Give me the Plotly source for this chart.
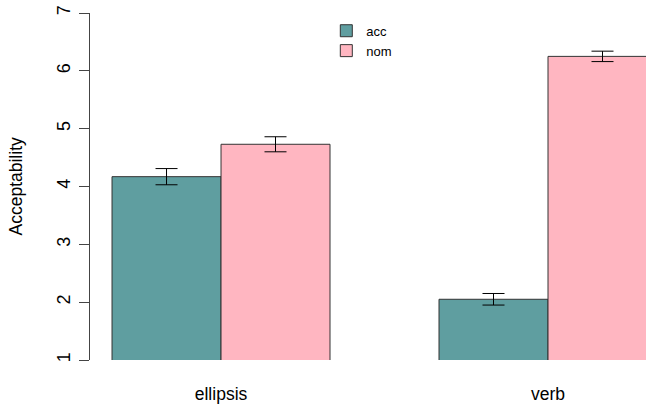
import plotly.graph_objects as go

# Mean acceptability ratings with standard errors, by construction and case
constructions = ["ellipsis", "verb"]
acc_mean = [4.17, 2.05]
acc_se = [0.14, 0.10]
nom_mean = [4.73, 6.25]
nom_se = [0.13, 0.09]
y_ticks = [1, 2, 3, 4, 5, 6, 7]

# Grouped bar positions (unit-width bars, one-unit gap between groups)
acc_x = [1.5, 4.5]
nom_x = [2.5, 5.5]
group_centers = [2, 5]

FONT = "Liberation Sans, Arial, sans-serif"
EDGE = "#333333"

fig = go.Figure()
fig.add_trace(go.Bar(
    x=acc_x, y=acc_mean, width=1, name="acc",
    marker=dict(color="#5F9EA0", line=dict(color=EDGE, width=1)),
    error_y=dict(type="data", array=acc_se, color="black", thickness=1, width=11),
))
fig.add_trace(go.Bar(
    x=nom_x, y=nom_mean, width=1, name="nom",
    marker=dict(color="#FFB6C1", line=dict(color=EDGE, width=1)),
    error_y=dict(type="data", array=nom_se, color="black", thickness=1, width=11),
))

fig.update_layout(
    width=646, height=406,
    margin=dict(l=90, r=0, t=13, b=46),
    paper_bgcolor="white", plot_bgcolor="white",
    font=dict(family=FONT, color="black", size=17.5),
    barmode="overlay",
    showlegend=True,
    legend=dict(
        x=0.425, y=0.992, xanchor="left", yanchor="top",
        font=dict(size=13), bgcolor="rgba(0,0,0,0)",
        itemwidth=30, tracegroupgap=0,
    ),
    xaxis=dict(
        range=[0.798, 5.899], showgrid=False, zeroline=False, showline=False,
        tickvals=group_centers, ticktext=constructions, ticks="",
        ticklabelstandoff=21, tickfont=dict(size=17.5),
    ),
    yaxis=dict(
        range=[1, 7], showgrid=False, zeroline=False,
        showline=True, linecolor="#444444", linewidth=1,
        tickvals=y_ticks, ticks="outside", ticklen=10, tickcolor="#444444",
        tickangle=-90, ticklabelstandoff=2, tickfont=dict(size=18),
    ),
    annotations=[dict(
        text="Acceptability", xref="paper", yref="paper", x=0, y=0.5,
        xshift=-75, textangle=-90, showarrow=False,
        font=dict(size=17.5), xanchor="center", yanchor="middle",
    )],
)

fig.write_html("out.html")
